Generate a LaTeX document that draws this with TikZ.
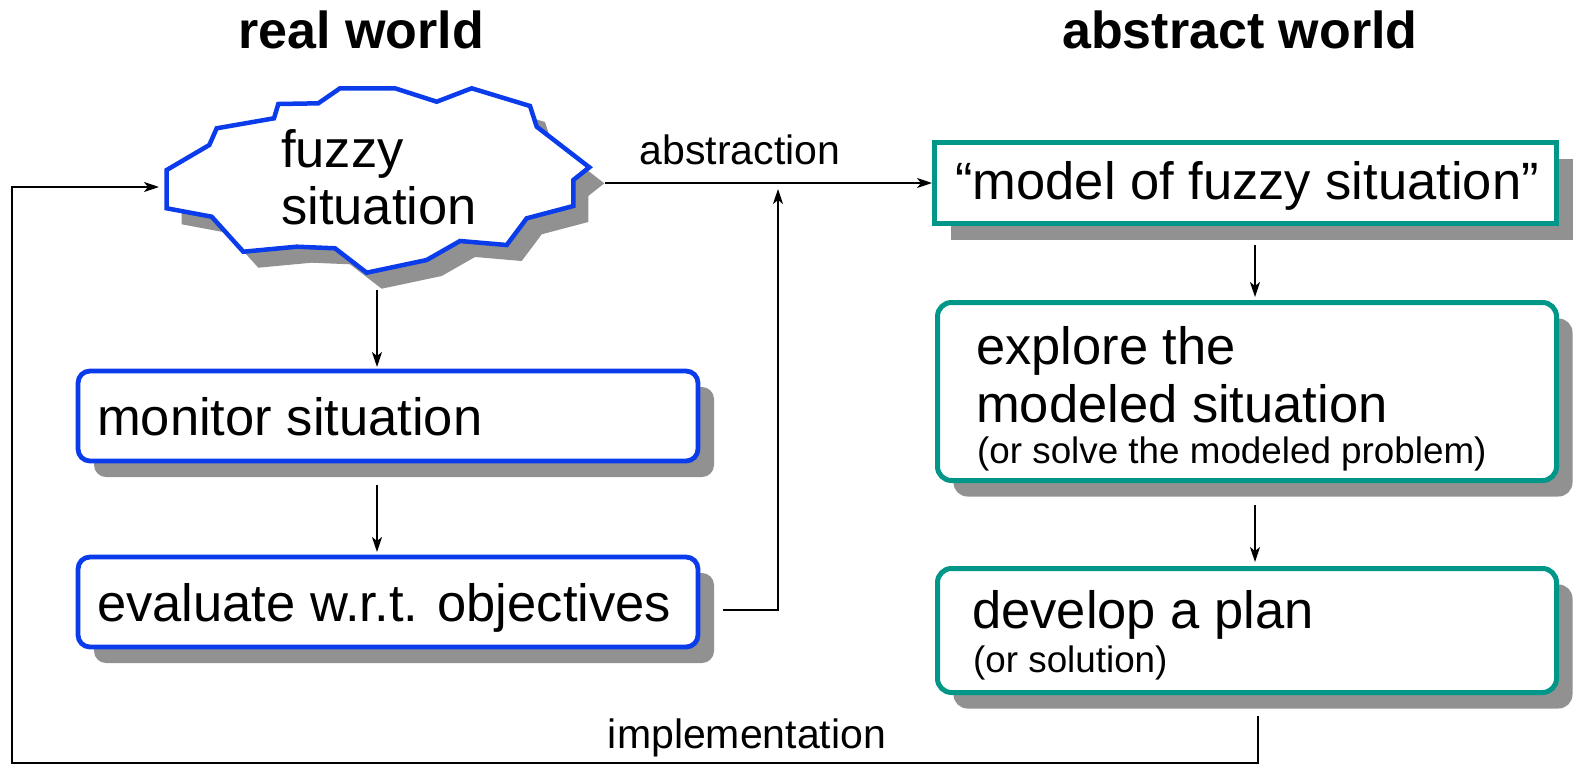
\documentclass[tikz,border=0pt]{standalone}
\usepackage{fontspec}
\setmainfont{Liberation Sans}
\usetikzlibrary{arrows.meta,shadows}
\definecolor{cblue}{RGB}{10,60,235}
\definecolor{cteal}{RGB}{0,150,136}
\definecolor{cshadow}{RGB}{145,145,145}
\tikzset{
  titletxt/.style={font=\fontsize{52}{60}\selectfont\bfseries, inner sep=0pt, anchor=base},
  bigtxt/.style={font=\fontsize{52.5}{60}\selectfont, inner sep=0pt, anchor=base west},
  smalltxt/.style={font=\fontsize{36.8}{42}\selectfont, inner sep=0pt, anchor=base west},
  labeltxt/.style={font=\fontsize{41}{48}\selectfont, inner sep=0pt, anchor=base},
  myshadow/.style={drop shadow={shadow xshift=16pt, shadow yshift=-16pt, fill=cshadow, opacity=1}},
  realbox/.style={draw=cblue, line width=4.8pt, fill=white, rounded corners=12pt, myshadow, inner sep=0pt},
  absbox/.style={draw=cteal, line width=5pt, fill=white, rounded corners=14pt, myshadow, inner sep=0pt},
  sqbox/.style={draw=cteal, line width=5pt, fill=white, myshadow, inner sep=0pt},
  conn/.style={line width=2pt, draw=black},
  arr/.style={conn, -{Stealth[length=15pt, width=10pt, inset=4pt]}},
}
\begin{document}
\begin{tikzpicture}[x=1pt, y=-1pt, line join=miter]
\useasboundingbox (0,0) rectangle (1585,766);

% titles
\node[titletxt] (treal) at (361,48.5) {real world};
\node[titletxt] (tabs) at (1240,48.5) {abstract world};

% cloud shadow and cloud
\def\cloudpath{(166.7,170) -- (166.7,208.3) -- (211.7,216.7) -- (243.3,251.7) -- (296.7,246.7) -- (335,248.3) -- (366.7,272.7) -- (426.7,260) -- (460,241) -- (506.7,245) -- (526.7,218.3) -- (573.3,206) -- (573.3,180) -- (589.3,167.3) -- (536.7,126.7) -- (530,106) -- (471.7,88.3) -- (436.7,101.7) -- (395,88.3) -- (340,88.3) -- (318.3,103.3) -- (278.3,104) -- (274,118.3) -- (216.7,128.3) -- (209.3,145) -- cycle}
\fill[cshadow, shift={(15,16)}] \cloudpath;
\filldraw[fill=white, draw=cblue, line width=4.5pt, line join=miter] \cloudpath;
\node[bigtxt] (fz1) at (281,167) {fuzzy};
\node[bigtxt] (fz2) at (281,224) {situation};

\coordinate (cloudS) at (377,290);
\coordinate (cloudE) at (605,183);
\coordinate (cloudIn) at (159,187);

% real world boxes
\node[realbox, minimum width=620pt, minimum height=90pt] (mon) at (388,416) {};
\node[bigtxt] (montxt) at (97,435) {monitor situation};
\node[realbox, minimum width=620pt, minimum height=90pt] (eval) at (388,602) {};
\node[bigtxt] (evaltxt) at (97,621) {evaluate w.r.t. objectives};

% abstract world boxes
\node[sqbox, minimum width=622pt, minimum height=81pt] (model) at (1245.5,183) {};
\node[font=\fontsize{52.5}{60}\selectfont, inner sep=0pt, anchor=base] (modeltxt) at (1247,199) {“model of fuzzy situation”};
\node[absbox, minimum width=619pt, minimum height=178pt] (expl) at (1247,391.5) {};
\node[bigtxt] (ex1) at (976,364) {explore the};
\node[bigtxt] (ex2) at (976,422) {modeled situation};
\node[smalltxt] (ex3) at (977,463) {(or solve the modeled problem)};
\node[absbox, minimum width=619pt, minimum height=124pt] (dev) at (1247,630.5) {};
\node[bigtxt] (dv1) at (972,628) {develop a plan};
\node[smalltxt] (dv2) at (973,672) {(or solution)};

% labels
\node[labeltxt] (labs) at (740,164) {abstraction};
\node[labeltxt] (limp) at (747,748) {implementation};

% connector coordinates
\coordinate (monIn) at (377,367);
\coordinate (monOut) at (377,485);
\coordinate (evalIn) at (377,552);
\coordinate (evalOut) at (723,610);
\coordinate (joinB) at (778,610);
\coordinate (joinT) at (778,189);
\coordinate (modelOut) at (1255,245);
\coordinate (explIn) at (1255,297);
\coordinate (explOut) at (1255,505);
\coordinate (devIn) at (1255,562);
\coordinate (devOut) at (1258,716);
\coordinate (loopR) at (1258,763);
\coordinate (loopL) at (12,763);
\coordinate (loopT) at (12,187);

% connectors
\draw[arr] (cloudS) -- (monIn);
\draw[arr] (monOut) -- (evalIn);
\draw[arr] (cloudE) -- (cloudE -| model.west);
\draw[arr] (evalOut) -- (joinB) -- (joinT);
\draw[arr] (modelOut) -- (explIn);
\draw[arr] (explOut) -- (devIn);
\draw[arr] (devOut) -- (loopR) -- (loopL) -- (loopT) -- (cloudIn);
\end{tikzpicture}
\end{document}
